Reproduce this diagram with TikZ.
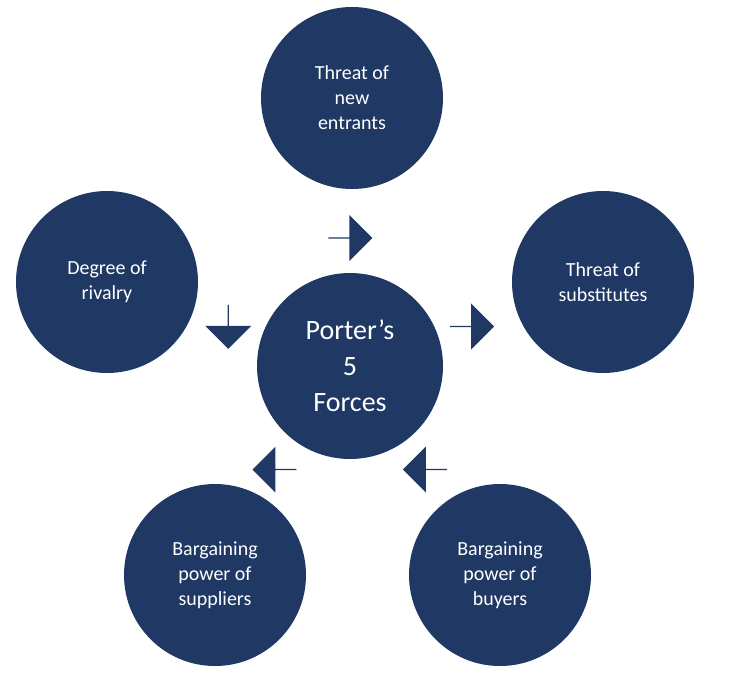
\documentclass[tikz,border=0pt]{standalone}
\usepackage{fontspec}
\setmainfont{Carlito}
\usetikzlibrary{positioning}
\usetikzlibrary{shapes.arrows}
\definecolor{porter navy}{RGB}{31,56,100}

\begin{document}
\begin{tikzpicture}[x=1pt,y=-1pt,
					force circle/.style={circle, fill=porter navy, text=white, minimum size=182pt, inner sep=0pt, align=center, font=\fontsize{20}{25}\selectfont},
					force arrow/.style={single arrow, fill=porter navy, minimum height=44pt, minimum width=46pt, single arrow head extend=7pt, inner sep=0pt},
				]
					\useasboundingbox (0,0) rectangle (750,697);
					
					\node[force circle, minimum size=186pt, font=\fontsize{28}{36}\selectfont] (core) at (350,366) {Porter's\\5\\Forces};
					\node[force circle] (entrants) at (352,98) {Threat of\\new\\entrants};
					\node[force circle] (rivalry) at (107,282) {Degree of\\rivalry};
					\node[force circle] (substitutes) at (603,282) {Threat of\\substitutes};
					\node[force circle] (suppliers) at (215,575) {Bargaining\\power of\\suppliers};
					\node[force circle] (buyers) at (500,575) {Bargaining\\power of\\buyers};
					
					\foreach \ang/\name in {90/up, 162/left, 18/right, 234/downleft, 306/downright}
						\node[force arrow, shape border rotate=-\ang] (arrow \name) at ([shift={(-\ang:128)}]core.center) {};
				\end{tikzpicture}
\end{document}
